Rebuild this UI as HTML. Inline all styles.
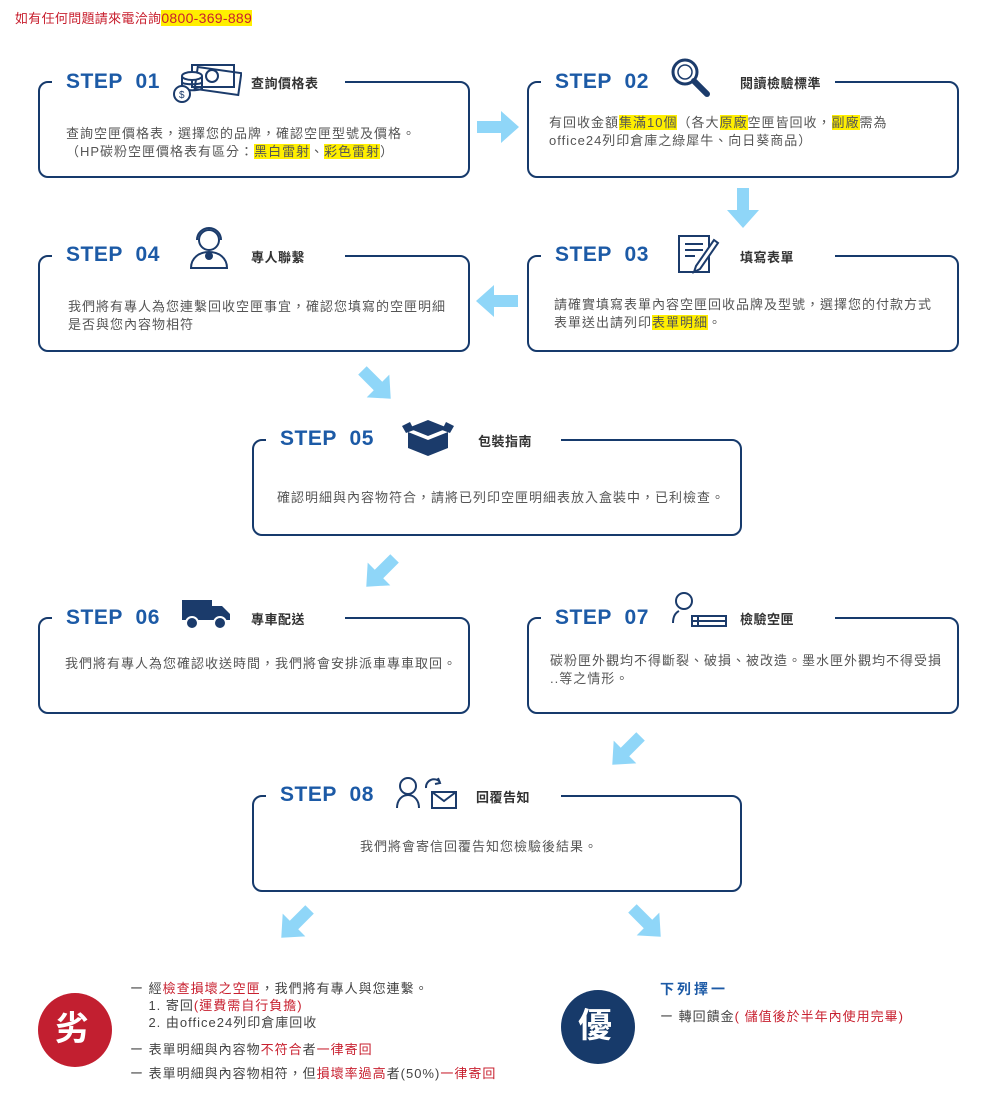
<!DOCTYPE html>
<html><head><meta charset="utf-8"><style>
*{margin:0;padding:0;box-sizing:border-box}
body{width:1000px;height:1106px;background:#fff;position:relative;overflow:hidden;font-family:"Liberation Sans","Noto Sans CJK TC",sans-serif;color:#444}
.a{position:absolute}
.box{position:absolute;border:2px solid #163a6c;border-radius:10px;width:432px;height:97px}
.cov{position:absolute;top:-4px;height:8px;background:#fff}
.step{position:absolute;font-weight:bold;font-size:21px;color:#1c5aa6;letter-spacing:0.5px;white-space:nowrap}
.ttl{position:absolute;font-weight:bold;font-size:13px;color:#333;white-space:nowrap;letter-spacing:0.5px}
.txt{position:absolute;font-size:13px;color:#555;line-height:18px;white-space:nowrap;letter-spacing:1px}
.hl{background:#ffef00}
.r{color:#c8202f}
</style></head><body>
<div class="a" style="left:15px;top:8px;font-size:13px;color:#c8202f;letter-spacing:0.3px">如有任何問題請來電洽詢<span class="hl" style="font-size:14px">0800-369-889</span></div>

<div class="box" style="left:38px;top:81px"><div class="cov" style="left:12px;width:293px"></div></div>
<div class="step" style="left:66px;top:70px">STEP&nbsp; 01</div>
<svg class="a" style="left:172px;top:62px" width="70" height="42" viewBox="0 0 70 42" fill="none" stroke="#1b3b6b" stroke-width="2"><rect x="20" y="3" width="42" height="22"/><rect x="24" y="8" width="44" height="22" transform="rotate(8 46 19)"/><circle cx="40" cy="14" r="6"/><ellipse cx="20" cy="14" rx="10" ry="4" fill="#fff"/><path d="M10 14v14M30 14v14M10 20c0 3 20 3 20 0M10 26c0 3 20 3 20 0"/><circle cx="10" cy="32" r="8" fill="#fff"/><text x="7" y="36" font-size="10" fill="#1b3b6b" stroke="none">$</text></svg>
<div class="ttl" style="left:251px;top:73px">查詢價格表</div>
<div class="txt" style="left:66px;top:125px">查詢空匣價格表，選擇您的品牌，確認空匣型號及價格。<br>（HP碳粉空匣價格表有區分：<span class="hl">黑白雷射</span>、<span class="hl">彩色雷射</span>）</div>

<div class="box" style="left:527px;top:81px"><div class="cov" style="left:12px;width:294px"></div></div>
<div class="step" style="left:555px;top:70px">STEP&nbsp; 02</div>
<svg class="a" style="left:668px;top:55px" width="44" height="44" fill="none" stroke="#1b3b6b" stroke-width="3"><circle cx="17" cy="17" r="12"/><circle cx="17" cy="17" r="7" stroke-width="1.5"/><path d="M26 26l13 13" stroke-width="6" stroke-linecap="round"/></svg>
<div class="ttl" style="left:740px;top:73px">閱讀檢驗標準</div>
<div class="txt" style="left:549px;top:114px">有回收金額<span class="hl">集滿10個</span>（各大<span class="hl">原廠</span>空匣皆回收，<span class="hl">副廠</span>需為<br>office24列印倉庫之綠犀牛、向日葵商品）</div>

<div class="box" style="left:38px;top:255px"><div class="cov" style="left:12px;width:293px"></div></div>
<div class="step" style="left:66px;top:243px">STEP&nbsp; 04</div>
<svg class="a" style="left:187px;top:222px" width="44" height="50" fill="none" stroke="#1b3b6b" stroke-width="2"><circle cx="22" cy="18" r="10"/><path d="M10 18a12 12 0 0 1 24 0M4 46c0-10 8-16 18-16s18 6 18 16z"/><circle cx="22" cy="34" r="3" fill="#1b3b6b"/></svg>
<div class="ttl" style="left:251px;top:247px">專人聯繫</div>
<div class="txt" style="left:68px;top:298px">我們將有專人為您連繫回收空匣事宜，確認您填寫的空匣明細<br>是否與您內容物相符</div>

<div class="box" style="left:527px;top:255px"><div class="cov" style="left:12px;width:294px"></div></div>
<div class="step" style="left:555px;top:243px">STEP&nbsp; 03</div>
<svg class="a" style="left:676px;top:232px" width="44" height="44" fill="none" stroke="#1b3b6b" stroke-width="2"><rect x="3" y="4" width="30" height="36"/><path d="M9 12h18M9 18h18M9 24h10"/><path d="M38 8L20 34l-2 6 6-3 18-26z" fill="#fff"/></svg>
<div class="ttl" style="left:740px;top:247px">填寫表單</div>
<div class="txt" style="left:554px;top:296px">請確實填寫表單內容空匣回收品牌及型號，選擇您的付款方式<br>表單送出請列印<span class="hl">表單明細</span>。</div>

<div class="box" style="left:252px;top:439px;width:490px"><div class="cov" style="left:12px;width:295px"></div></div>
<div class="step" style="left:280px;top:427px">STEP&nbsp; 05</div>
<svg class="a" style="left:400px;top:416px" width="56" height="42"><path d="M8 12l20-8 20 8-20 8z" fill="#1b3b6b"/><path d="M8 16l20 8v16L8 32z M48 16l-20 8v16l20-8z" fill="#1b3b6b"/><path d="M2 10l8-4 4 8-8 3zM54 10l-8-4-4 8 8 3z" fill="#1b3b6b"/></svg>
<div class="ttl" style="left:478px;top:431px">包裝指南</div>
<div class="txt" style="left:277px;top:489px">確認明細與內容物符合，請將已列印空匣明細表放入盒裝中，已利檢查。</div>

<div class="box" style="left:38px;top:617px"><div class="cov" style="left:12px;width:293px"></div></div>
<div class="step" style="left:66px;top:606px">STEP&nbsp; 06</div>
<svg class="a" style="left:180px;top:596px" width="52" height="36"><path d="M2 4h30v20H2z M32 10h10l8 8v6H32z" fill="#1b3b6b"/><circle cx="12" cy="27" r="6" fill="#1b3b6b" stroke="#fff" stroke-width="2"/><circle cx="40" cy="27" r="6" fill="#1b3b6b" stroke="#fff" stroke-width="2"/></svg>
<div class="ttl" style="left:251px;top:609px">專車配送</div>
<div class="txt" style="left:65px;top:655px">我們將有專人為您確認收送時間，我們將會安排派車專車取回。</div>

<div class="box" style="left:527px;top:617px"><div class="cov" style="left:12px;width:294px"></div></div>
<div class="step" style="left:555px;top:606px">STEP&nbsp; 07</div>
<svg class="a" style="left:670px;top:590px" width="60" height="40" fill="none" stroke="#1b3b6b" stroke-width="2"><circle cx="14" cy="11" r="8"/><path d="M3 33c0-6 2-10 6-12"/><rect x="22" y="26" width="34" height="10"/><path d="M22 31h34M28 26v10"/></svg>
<div class="ttl" style="left:740px;top:609px">檢驗空匣</div>
<div class="txt" style="left:550px;top:652px">碳粉匣外觀均不得斷裂、破損、被改造。墨水匣外觀均不得受損<br>..等之情形。</div>

<div class="box" style="left:252px;top:795px;width:490px"><div class="cov" style="left:12px;width:295px"></div></div>
<div class="step" style="left:280px;top:783px">STEP&nbsp; 08</div>
<svg class="a" style="left:394px;top:772px" width="66" height="40" fill="none" stroke="#1b3b6b" stroke-width="2"><circle cx="14" cy="14" r="8"/><path d="M3 36c0-8 5-13 11-13s11 5 11 13"/><path d="M32 16a8 8 0 0 1 14-6"/><path d="M44 6l2 5-5 1"/><rect x="38" y="20" width="24" height="16"/><path d="M38 20l12 9 12-9"/></svg>
<div class="ttl" style="left:476px;top:787px">回覆告知</div>
<div class="txt" style="left:360px;top:838px">我們將會寄信回覆告知您檢驗後結果。</div>

<svg class="a" style="left:0;top:0" width="1000" height="1106">
<g fill="#8fd6f8">
<path d="M477 121h24v-10l18 16-18 16v-10h-24z"/>
<path d="M518 295h-24v-10l-18 16 18 16v-10h24z"/>
<path d="M737 188h12v22h10l-16 18-16-18h10z"/>
<g transform="translate(378 386) rotate(45)"><path d="M-22 -6h22v-10l18 16-18 16v-10h-22z"/></g>
<g transform="translate(379 574) rotate(135)"><path d="M-22 -6h22v-10l18 16-18 16v-10h-22z"/></g>
<g transform="translate(625 752) rotate(135)"><path d="M-22 -6h22v-10l18 16-18 16v-10h-22z"/></g>
<g transform="translate(294 925) rotate(135)"><path d="M-22 -6h22v-10l18 16-18 16v-10h-22z"/></g>
<g transform="translate(648 924) rotate(45)"><path d="M-22 -6h22v-10l18 16-18 16v-10h-22z"/></g>
</g>
<circle cx="75" cy="1030" r="37" fill="#c21f30"/>
<circle cx="598" cy="1027" r="37" fill="#173a6a"/>
</svg>
<div class="a" style="left:55px;top:1009px;font-size:34px;font-weight:bold;color:#fff;line-height:40px">劣</div>
<div class="a" style="left:578px;top:1006px;font-size:34px;font-weight:bold;color:#fff;line-height:40px">優</div>

<div class="txt" style="left:130px;top:980px;line-height:17px;color:#444">ー 經<span class="r">檢查損壞之空匣</span>，我們將有專人與您連繫。<br>&nbsp;&nbsp;&nbsp;&nbsp;1. 寄回<span class="r">(運費需自行負擔)</span><br>&nbsp;&nbsp;&nbsp;&nbsp;2. 由office24列印倉庫回收</div>
<div class="txt" style="left:130px;top:1041px;color:#444">ー 表單明細與內容物<span class="r">不符合</span>者<span class="r">一律寄回</span></div>
<div class="txt" style="left:130px;top:1065px;color:#444">ー 表單明細與內容物相符，但<span class="r">損壞率過高</span>者(50%)<span class="r">一律寄回</span></div>
<div class="a" style="left:660px;top:979px;font-size:14px;font-weight:bold;color:#1c5aa6;letter-spacing:3px">下列擇一</div>
<div class="txt" style="left:660px;top:1008px;color:#444">ー 轉回饋金<span class="r">( 儲值後於半年內使用完畢)</span></div>
</body></html>
